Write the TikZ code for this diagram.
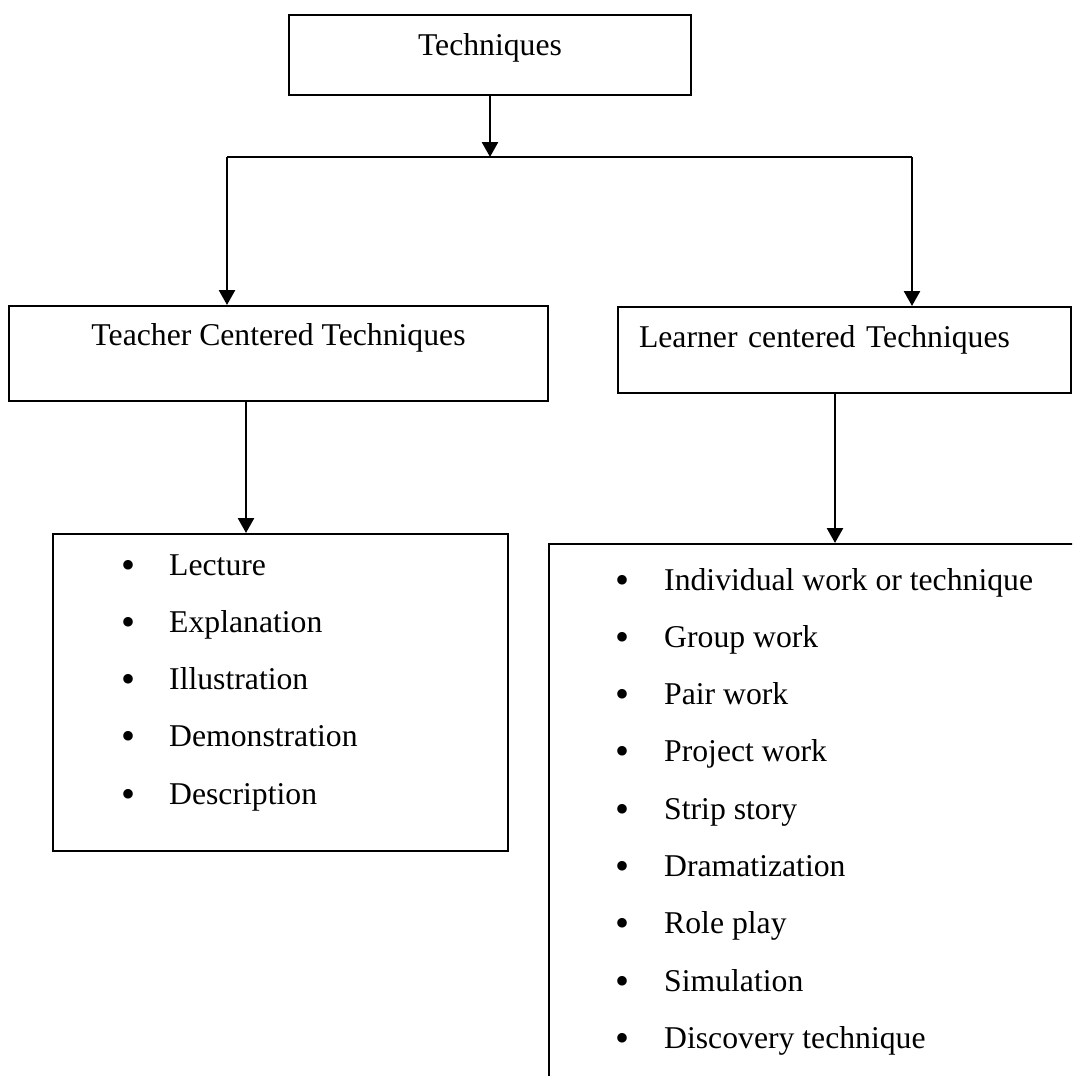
\documentclass[tikz,border=0pt]{standalone}
\usepackage{fontspec}
\setmainfont{Liberation Serif}
\usetikzlibrary{arrows.meta}
\def\itemFont{\fontsize{31.7}{38}\selectfont}
\def\dotFont{\fontsize{40}{44}\selectfont}
\tikzset{
  box/.style={draw, line width=2pt, inner sep=0pt, font=\itemFont},
  listbox/.style={draw, line width=2pt, inner sep=0pt, anchor=north west},
  arrow/.style={draw, line width=2.6pt, -{Triangle[width=16pt,length=15pt]}},
  item/.style={font=\itemFont, inner sep=0pt},
  dot/.style={font=\dotFont, inner sep=0pt, anchor=base}
  }
\tikzstyle{edge} = [draw, line width=2pt, -]

\begin{document}
\begin{tikzpicture}[x=1pt, y=-1pt]
  \useasboundingbox (0,0) rectangle (1072,1076);
  \clip (0,0) rectangle (1072,1076);

  % boxes
  \node[box, minimum width=402pt, text height=40pt, text depth=40pt] (techniques) at (490,55) {Techniques};
  \node[box, anchor=base, minimum width=539pt, text height=39pt, text depth=56pt] (teacher) at (278.5,345) {Teacher Centered Techniques};
  \node[box, anchor=base west, inner xsep=21pt, text width=411pt, align=left, text height=40pt, text depth=46pt] (learner) at (617,347) {Learner centered Techniques};
  \node[listbox, minimum width=455pt, minimum height=317pt] (tlist) at (52,533) {};
  \node[listbox, minimum width=560pt, minimum height=600pt] (llist) at (548,543) {};

  % connectors
  \coordinate (split) at (490,157);
  \coordinate (lcorner) at (227,157);
  \coordinate (rcorner) at (912,157);
  \draw[arrow] (techniques) -- (split);
  \draw[edge] (lcorner) -- (rcorner);
  \draw[arrow] (lcorner) -- (lcorner |- teacher.north);
  \draw[arrow] (rcorner) -- (rcorner |- learner.north);
  \draw[arrow] ([xshift=-32.5pt]teacher.south) -- ([xshift=-32.5pt]teacher.south |- tlist.north);
  \draw[arrow] ([xshift=-9.5pt]learner.south) -- ([xshift=-9.5pt]learner.south |- llist.north);

  % lists
  \foreach \i/\name in {0/Lecture, 1/Explanation, 2/Illustration, 3/Demonstration, 4/Description} {
    \node[dot] (tb\i) at (128, {578+57.3*\i}) {\textbullet};
    \node[item, anchor=base west] (ti\i) at (169, {575+57.3*\i}) {\name};
  }
  \foreach \i/\name in {0/Individual work or technique, 1/Group work, 2/Pair work, 3/Project work, 4/Strip story, 5/Dramatization, 6/Role play, 7/Simulation, 8/Discovery technique} {
    \node[dot] (lb\i) at (622, {593+57.3*\i}) {\textbullet};
    \node[item, anchor=base west] (li\i) at (664, {590+57.3*\i}) {\name};
  }
\end{tikzpicture}
\end{document}
